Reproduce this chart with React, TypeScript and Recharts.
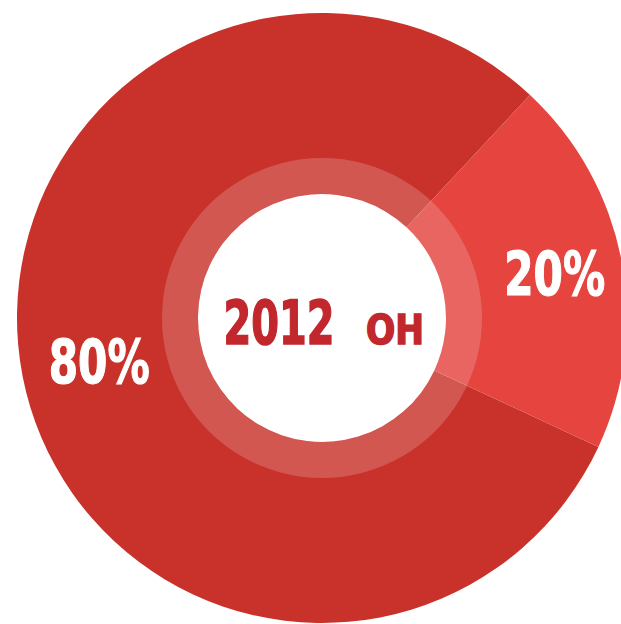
import { PieChart, Pie, Cell, Label } from "recharts";

// Share of the year: rest vs. OH
const sliceNames = ["Other", "OH"];
const sliceValues = [80, 20];
const sliceColors = ["#c9322b", "#e5443f"];

const centerYear = "2012";
const centerTag = "OH";

const data = sliceNames.map((name, i) => ({ name, value: sliceValues[i] }));
const ring = [{ name: "ring", value: 1 }];

const CX = 322;
const CY = 318;
const RAD = Math.PI / 180;
const FONT = "'Liberation Sans Narrow', 'DejaVu Sans Condensed', 'DejaVu Sans', sans-serif";

const renderPercent = (props: any) => {
    const { cx, cy, midAngle, value } = props;
    const r = 232;
    const x = cx + 5 + r * Math.cos(-midAngle * RAD);
    const y = cy + r * Math.sin(-midAngle * RAD);
    return (
        <text
            x={x}
            y={y + 21}
            textAnchor="middle"
            fill="#ffffff"
            stroke="#ffffff"
            strokeWidth={1.2}
            fontFamily={FONT}
            fontWeight="bold"
            fontSize={61}
            textLength={101}
            lengthAdjust="spacingAndGlyphs"
        >
            {`${value}%`}
        </text>
    );
};

const CenterText = () => (
    <g fill="#c1272d" stroke="#c1272d" strokeWidth={1.5} fontFamily={FONT} fontWeight="bold">
        <text x={CX - 43} y={CY + 26} textAnchor="middle" fontSize={61} textLength={111} lengthAdjust="spacingAndGlyphs">
            {centerYear}
        </text>
        <text x={CX + 73} y={CY + 26} textAnchor="middle" fontSize={41} textLength={58} lengthAdjust="spacingAndGlyphs">
            {centerTag}
        </text>
    </g>
);

export default function App() {
    return (
        <div style={{ position: "fixed", left: 0, top: 0, width: 621, height: 624, background: "#ffffff" }}>
            <PieChart width={621} height={624} margin={{ top: 0, right: 0, bottom: 0, left: 0 }}>
                <Pie
                    data={data}
                    dataKey="value"
                    nameKey="name"
                    cx={CX}
                    cy={CY}
                    innerRadius={124}
                    outerRadius={305}
                    startAngle={47}
                    endAngle={407}
                    stroke="none"
                    label={renderPercent}
                    labelLine={false}
                    isAnimationActive={false}
                >
                    {data.map((d, i) => (
                        <Cell key={d.name} fill={sliceColors[i]} />
                    ))}
                </Pie>
                <Pie
                    data={ring}
                    dataKey="value"
                    cx={CX}
                    cy={CY}
                    innerRadius={124}
                    outerRadius={160}
                    fill="#ffffff"
                    fillOpacity={0.18}
                    stroke="none"
                    isAnimationActive={false}
                >
                    <Label position="center" content={CenterText} />
                </Pie>
            </PieChart>
        </div>
    );
}
